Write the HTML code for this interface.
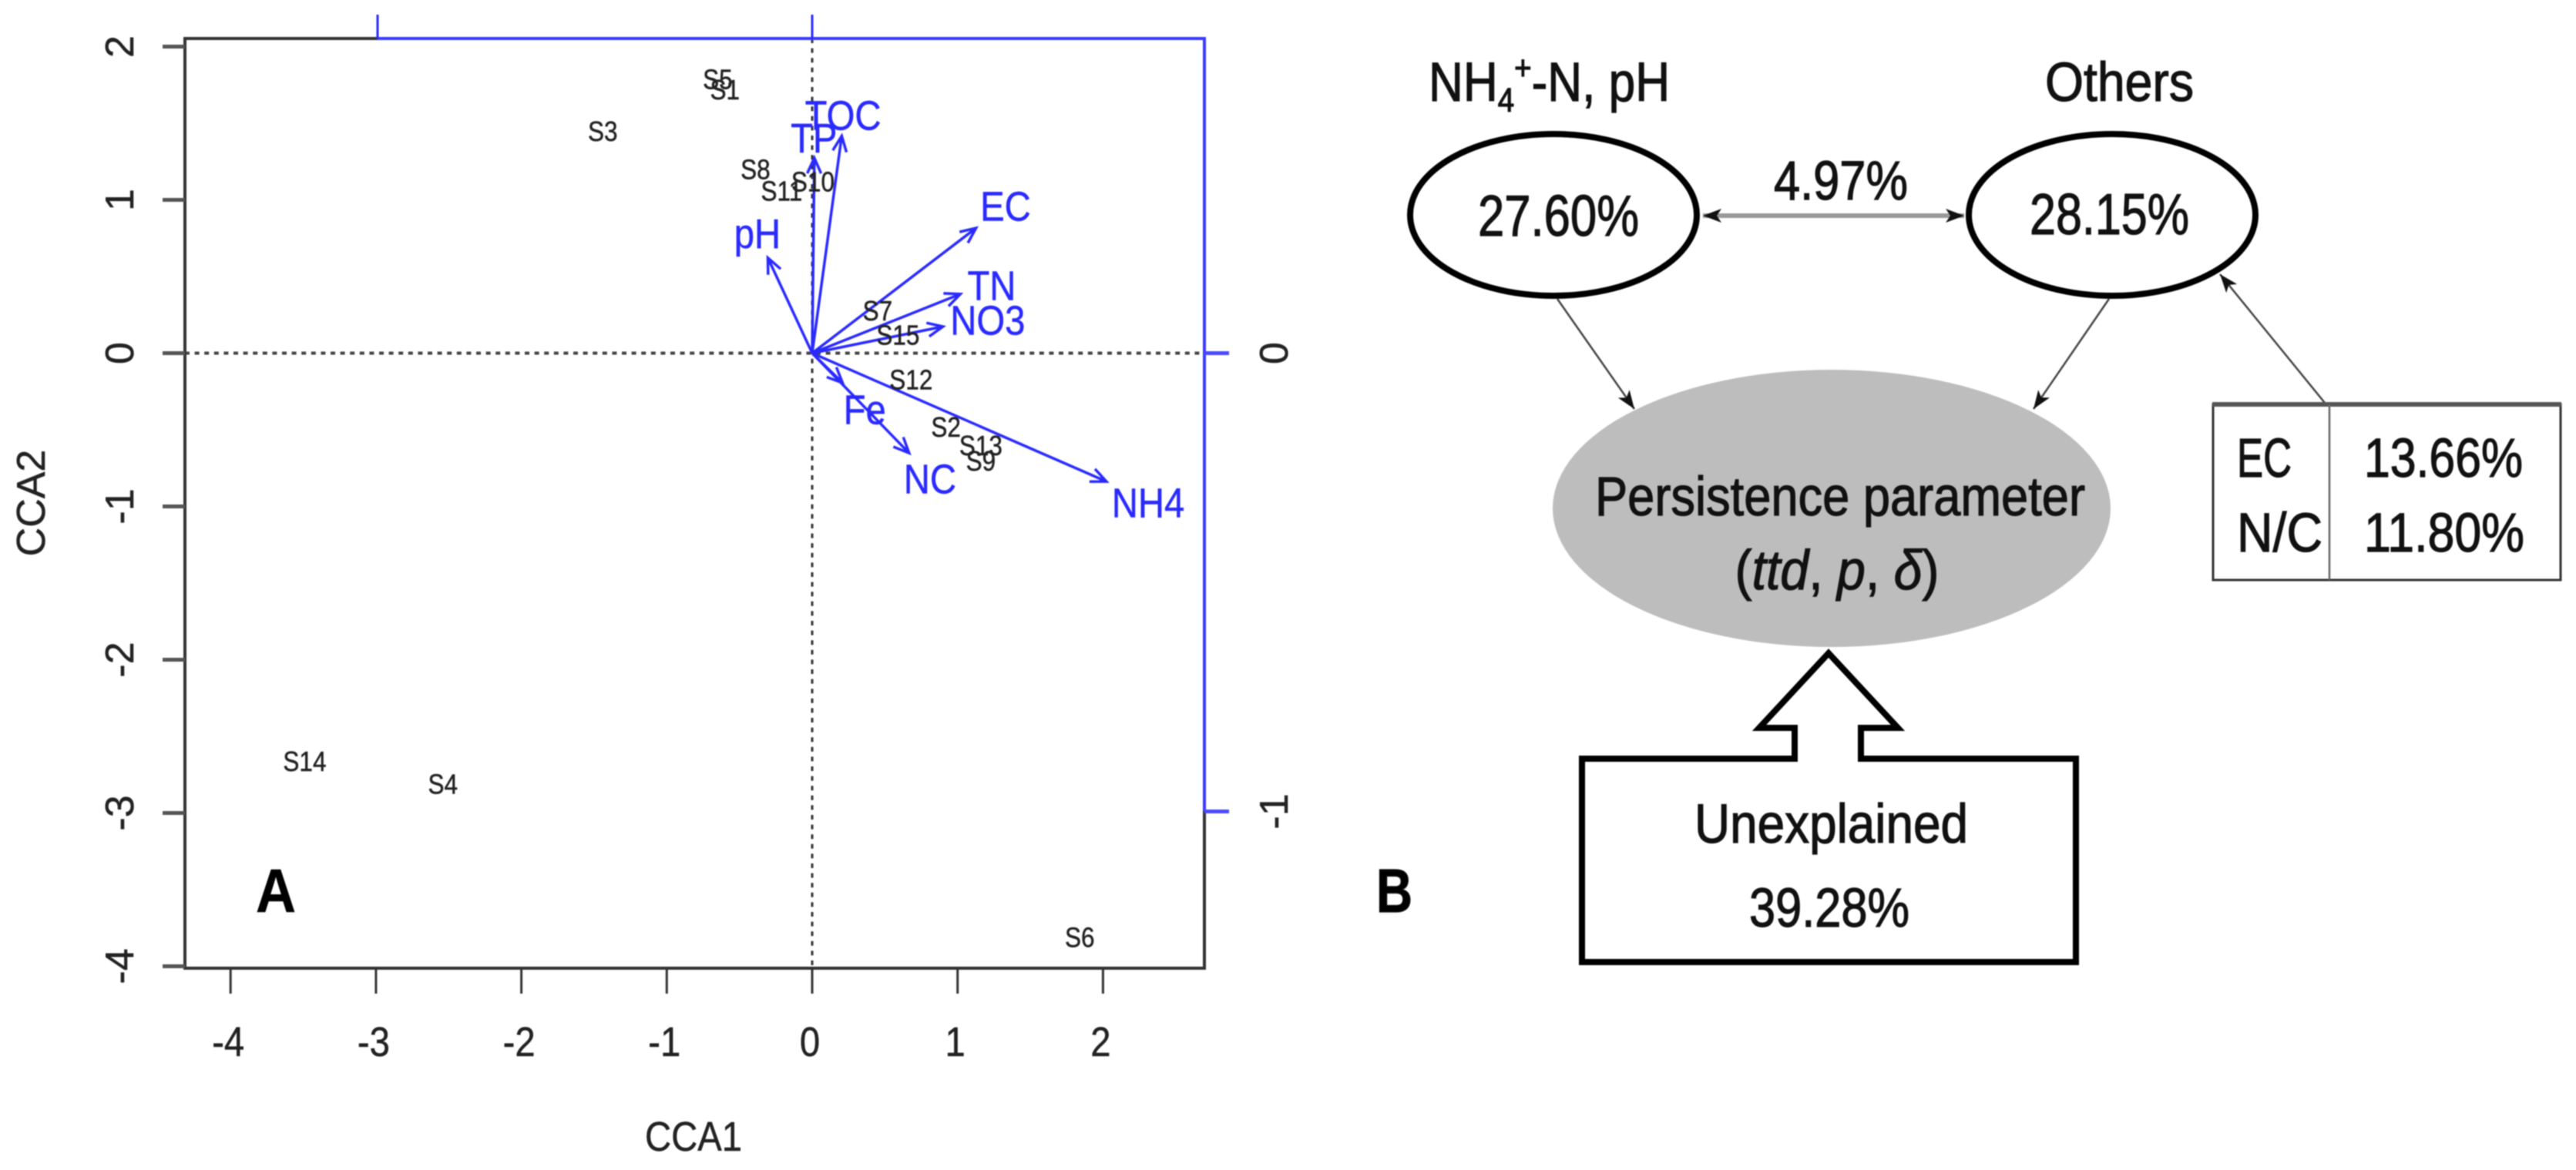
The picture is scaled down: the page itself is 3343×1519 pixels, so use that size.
<!DOCTYPE html>
<html lang="en">
<head>
<meta charset="utf-8">
<title>CCA biplot and variation partitioning</title>
<style>
html,body{margin:0;padding:0;background:#fff;}
svg{display:block;filter:blur(0.8px);}
text{font-family:"Liberation Sans",Arial,sans-serif;}
#panel-b text{stroke:#111;stroke-width:1.2;}
#panel-a text{stroke:currentColor;stroke-width:0.5;}
</style>
</head>
<body>
<svg id="fig" xmlns="http://www.w3.org/2000/svg" width="3343" height="1519" viewBox="0 0 3343 1519">
  <rect width="3343" height="1519" fill="#ffffff"/>
  <defs>
    <marker id="bh" markerUnits="userSpaceOnUse" markerWidth="30" markerHeight="30" refX="24" refY="12" orient="auto-start-reverse" viewBox="0 0 30 24">
      <path d="M0,3 L24,12 L0,21 L6,12 Z" fill="#111"/>
    </marker>
  </defs>
  <g id="panel-a"></g>

  <g id="panel-b">
    <text x="1786" y="1184" font-size="80" font-weight="bold" textLength="47" lengthAdjust="spacingAndGlyphs">B</text>

    <text transform="translate(1854,131) scale(.875,1)" font-size="71" fill="#111">NH<tspan font-size="44" dy="14">4</tspan><tspan font-size="44" dy="-42">+</tspan><tspan dy="28">-N, pH</tspan></text>
    <text x="2654" y="131" font-size="71" fill="#111" textLength="193" lengthAdjust="spacingAndGlyphs">Others</text>

    <ellipse cx="2016" cy="279" rx="186" ry="105" fill="#fff" stroke="#000" stroke-width="8"/>
    <ellipse cx="2741" cy="279" rx="186" ry="105" fill="#fff" stroke="#000" stroke-width="8"/>
    <text x="1918" y="306" font-size="75" fill="#111" textLength="209" lengthAdjust="spacingAndGlyphs">27.60%</text>
    <text x="2634" y="304" font-size="75" fill="#111" textLength="207" lengthAdjust="spacingAndGlyphs">28.15%</text>

    <line x1="2210" y1="280" x2="2549" y2="280" stroke="#999" stroke-width="6" marker-start="url(#bh)" marker-end="url(#bh)"/>
    <text x="2302" y="259" font-size="71" fill="#111" textLength="174" lengthAdjust="spacingAndGlyphs">4.97%</text>

    <ellipse cx="2377" cy="660" rx="362" ry="180" fill="#bdbdbd"/>
    <text x="2070" y="669" font-size="71" fill="#111" textLength="636" lengthAdjust="spacingAndGlyphs">Persistence parameter</text>
    <text transform="translate(2384,765) scale(.92,1)" text-anchor="middle" font-size="72" fill="#111">(<tspan font-style="italic">ttd</tspan>, <tspan font-style="italic">p</tspan>, <tspan font-style="italic">δ</tspan>)</text>

    <line x1="2021" y1="388" x2="2121" y2="531" stroke="#444" stroke-width="2.5" marker-end="url(#bh)"/>
    <line x1="2737" y1="388" x2="2639" y2="531" stroke="#444" stroke-width="2.5" marker-end="url(#bh)"/>
    <line x1="3017" y1="523" x2="2881" y2="356" stroke="#444" stroke-width="2.5" marker-end="url(#bh)"/>

    <rect x="2872" y="525" width="451" height="228" fill="#fff" stroke="#333" stroke-width="3"/>
    <line x1="2871" y1="525" x2="3324" y2="525" stroke="#555" stroke-width="6"/>
    <line x1="3023" y1="525" x2="3023" y2="753" stroke="#666" stroke-width="2.5"/>
    <text x="2903" y="619" font-size="71" fill="#111" textLength="71" lengthAdjust="spacingAndGlyphs">EC</text>
    <text x="3068" y="619" font-size="71" fill="#111" textLength="206" lengthAdjust="spacingAndGlyphs">13.66%</text>
    <text x="2903" y="716" font-size="71" fill="#111" textLength="111" lengthAdjust="spacingAndGlyphs">N/C</text>
    <text x="3068" y="716" font-size="71" fill="#111" textLength="208" lengthAdjust="spacingAndGlyphs">11.80%</text>

    <path d="M2053,985 L2329,985 L2329,945 L2283,945 L2373,848 L2463,945 L2415,945 L2415,985 L2694,985 L2694,1249 L2053,1249 Z" fill="#fff" stroke="#000" stroke-width="8"/>
    <text x="2199" y="1094" font-size="71" fill="#111" textLength="355" lengthAdjust="spacingAndGlyphs">Unexplained</text>
    <text x="2270" y="1203" font-size="71" fill="#111" textLength="208" lengthAdjust="spacingAndGlyphs">39.28%</text>
  </g>
</svg>

<script>
// Chart values
const xTickValues = [-4, -3, -2, -1, 0, 1, 2];
const yTickValues = [2, 1, 0, -1, -2, -3, -4];
const topTickValues = [-1, 0];
const rightTickValues = [0, -1];

const siteNames = ['S1','S2','S3','S4','S5','S6','S7','S8','S9','S10','S11','S12','S13','S14','S15'];
const siteCCA1 = [-0.60, 0.92, -1.44, -2.54, -0.65, 1.84, 0.45, -0.39, 1.16, 0.005, -0.21, 0.68, 1.16, -3.49, 0.59];
const siteCCA2 = [1.72, -0.48, 1.45, -2.81, 1.79, -3.81, 0.28, 1.20, -0.70, 1.12, 1.06, -0.17, -0.60, -2.66, 0.12];

const envNames = ['pH','TP','TOC','EC','TN','NO3','Fe','NC','NH4'];
const envCCA1 = [-0.102, 0.005, 0.068, 0.377, 0.341, 0.301, 0.070, 0.223, 0.677];
const envCCA2 = [0.208, 0.426, 0.474, 0.273, 0.129, 0.058, -0.065, -0.218, -0.280];
const envLabelCCA1 = [-0.126, 0.004, 0.071, 0.445, 0.413, 0.404, 0.121, 0.271, 0.773];
const envLabelCCA2 = [0.262, 0.471, 0.520, 0.322, 0.149, 0.073, -0.122, -0.273, -0.325];

// Axis functions
function xMain(v) { return 1054 + 188.7 * v; }
function yMain(v) { return 458.5 - 199 * v; }
function xBlue(v) { return 1054 + 564 * v; }
function yBlue(v) { return 458.5 - 595 * v; }

const NS = 'http://www.w3.org/2000/svg';
const root = document.getElementById('panel-a');
function make(tag, attrs, text) {
  const el = document.createElementNS(NS, tag);
  for (const k in attrs) el.setAttribute(k, attrs[k]);
  if (text !== undefined) el.textContent = text;
  root.appendChild(el);
  return el;
}
const BLUE = '#2a2aff';
const DARK = '#333';
const SX = 0.875;

let el;

// Reference lines
el = make('line', {x1: 240, y1: yMain(0), x2: 1563, y2: yMain(0), stroke: '#444', 'stroke-width': 4, 'stroke-dasharray': '6 6.6'});


el = make('line', {x1: xMain(0), y1: 50, x2: xMain(0), y2: 1257, stroke: '#333', 'stroke-width': 3, 'stroke-dasharray': '6 6.6'});



// Frame
el = make('path', {d: 'M490,50 L240,50 L240,1257 L1563,1257 L1563,1053', fill: 'none', stroke: DARK, 'stroke-width': 4});


el = make('path', {d: 'M490,50 L1563,50 L1563,1053', fill: 'none', stroke: '#3a3aff', 'stroke-width': 4});



// Bottom axis
xTickValues.forEach(function (v) {
  let t = make('line', {x1: xMain(v), y1: 1257, x2: xMain(v), y2: 1290, stroke: DARK, 'stroke-width': 3});
  
  
  let l = make('text', {transform: 'translate(' + (xMain(v) - 3) + ',1371) scale(' + SX + ',1)', 'text-anchor': 'middle', 'font-size': 54, fill: '#222', color: '#222'}, String(v));
  
  
});

// Left axis
yTickValues.forEach(function (v) {
  let t = make('line', {x1: 211, y1: yMain(v), x2: 240, y2: yMain(v), stroke: '#555', 'stroke-width': 5});
  
  
  let l = make('text', {transform: 'translate(173,' + yMain(v) + ') rotate(-90)', 'text-anchor': 'middle', 'font-size': 52, fill: '#222', color: '#222'}, String(v));
  
  
});

// Top blue axis
topTickValues.forEach(function (v) {
  let t = make('line', {x1: xBlue(v), y1: 19, x2: xBlue(v), y2: 50, stroke: BLUE, 'stroke-width': 3});
  
  
});

// Right blue axis
rightTickValues.forEach(function (v) {
  let t = make('line', {x1: 1563, y1: yBlue(v), x2: 1595, y2: yBlue(v), stroke: '#4a4aff', 'stroke-width': 5});
  
  
  let l = make('text', {transform: 'translate(1671,' + yBlue(v) + ') rotate(-90)', 'text-anchor': 'middle', 'font-size': 52, fill: '#222', color: '#222'}, String(v));
  
  
});

// Axis titles
el = make('text', {transform: 'translate(900,1494) scale(' + SX + ',1)', 'text-anchor': 'middle', 'font-size': 54, fill: '#222', color: '#222'}, 'CCA1');


el = make('text', {transform: 'translate(58,653) rotate(-90)', 'text-anchor': 'middle', 'font-size': 52, fill: '#222', color: '#222'}, 'CCA2');



// Environmental arrows
envNames.forEach(function (name, i) {
  const x0 = xBlue(0), y0 = yBlue(0);
  const x1 = xBlue(envCCA1[i]), y1 = yBlue(envCCA2[i]);
  const a = Math.atan2(y1 - y0, x1 - x0);
  const h = 22, s = 0.42;
  const d = 'M' + x0 + ',' + y0 + ' L' + x1 + ',' + y1 +
    ' M' + (x1 - h * Math.cos(a - s)) + ',' + (y1 - h * Math.sin(a - s)) +
    ' L' + x1 + ',' + y1 +
    ' L' + (x1 - h * Math.cos(a + s)) + ',' + (y1 - h * Math.sin(a + s));
  let arrow = make('path', {d: d, fill: 'none', stroke: BLUE, 'stroke-width': 3.5});
  
  
  let lab = make('text', {transform: 'translate(' + xBlue(envLabelCCA1[i]) + ',' + (yBlue(envLabelCCA2[i]) + 19.5) + ') scale(' + SX + ',1)', 'text-anchor': 'middle', 'font-size': 54, fill: '#2a2aff', color: '#2a2aff'}, name);
  
  
});

// Site labels
siteNames.forEach(function (name, i) {
  let s = make('text', {transform: 'translate(' + xMain(siteCCA1[i]) + ',' + (yMain(siteCCA2[i]) + 13) + ') scale(' + SX + ',1)', 'text-anchor': 'middle', 'font-size': 36, fill: '#222', color: '#222'}, name);
  
  
});

// Panel letter
el = make('text', {transform: 'translate(358,1184) scale(.9,1)', 'text-anchor': 'middle', 'font-size': 80, 'font-weight': 'bold', fill: '#000', color: '#000'}, 'A');


</script>
</body>
</html>
